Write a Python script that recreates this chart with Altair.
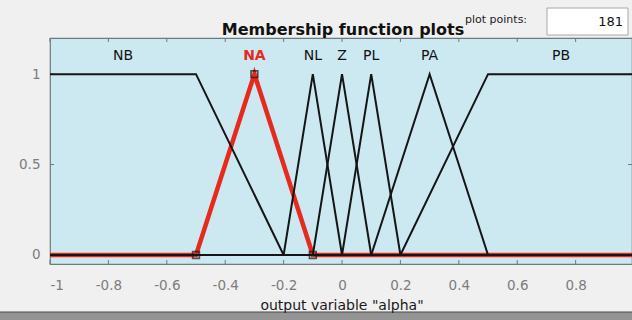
import altair as alt
import pandas as pd

# Membership functions of the output variable "alpha"
mf_names = ["NB", "NA", "NL", "Z", "PL", "PA", "PB"]
mf_params = [
    [-1.0, -1.0, -0.5, -0.2],   # trapmf
    [-0.5, -0.3, -0.1],         # trimf (selected)
    [-0.2, -0.1, 0.0],
    [-0.1, 0.0, 0.1],
    [0.0, 0.1, 0.2],
    [0.1, 0.3, 0.5],
    [0.2, 0.5, 1.0, 1.0],       # trapmf
]
selected = "NA"
label_x = [-0.75, -0.3, -0.1, 0.0, 0.1, 0.3, 0.75]
label_y = 1.1

x_range = [-1.0, 1.0]
x_ticks = [-1.0, -0.8, -0.6, -0.4, -0.2, 0.0, 0.2, 0.4, 0.6, 0.8]
y_ticks = [0.0, 0.5, 1.0]
plot_points = "181"


def trap(x, a, b, c, d):
    if x < a or x > d:
        return 0.0
    if b <= x <= c:
        return 1.0
    if x < b:
        return (x - a) / (b - a)
    return (d - x) / (d - c)


def mf_value(x, p):
    if len(p) == 3:
        return trap(x, p[0], p[1], p[1], p[2])
    return trap(x, *p)


rows = []
for name, p in zip(mf_names, mf_params):
    xs = sorted(set([x_range[0], x_range[1]] + [v for v in p if x_range[0] <= v <= x_range[1]]))
    for i, xv in enumerate(xs):
        rows.append({"mf": name, "x": xv, "y": mf_value(xv, p), "i": i})
curves = pd.DataFrame(rows)
sel_curve = curves[curves.mf == selected]
other_curves = curves[curves.mf != selected]

sel_p = mf_params[mf_names.index(selected)]
vertices = pd.DataFrame({"x": sel_p, "y": [mf_value(v, sel_p) for v in sel_p]})

labels = pd.DataFrame({"mf": mf_names, "x": label_x, "y": [label_y] * len(mf_names)})
sel_label = labels[labels.mf == selected]
other_labels = labels[labels.mf != selected]

W, H = 582, 226
FONT = "DejaVu Sans"

xs = alt.Scale(domain=[-1.0, 0.993], nice=False, zero=False)
ys = alt.Scale(domain=[-0.05, 1.2], nice=False, zero=False)

one = pd.DataFrame({"k": [0]})

# plain hyphen-minus in tick labels
label_expr = "'' + datum.value"

base_axes = alt.Chart(pd.DataFrame({"x": x_ticks, "y": [0.0] * len(x_ticks)})).mark_rule(opacity=0).encode(
    x=alt.X("x:Q", scale=xs, axis=alt.Axis(values=x_ticks, labelExpr=label_expr, title=None,
                                           ticks=False, tickSize=0, domain=False, grid=False,
                                           labelPadding=14, labelFontSize=13.5,
                                           labelColor="#7c7c7c", labelFont=FONT)),
    y=alt.Y("y:Q", scale=ys, axis=alt.Axis(values=y_ticks, labelExpr=label_expr, title=None,
                                           ticks=False, tickSize=0, domain=False, grid=False,
                                           labelPadding=10, labelFontSize=13.5,
                                           labelColor="#7c7c7c", labelFont=FONT)),
)

# inward tick marks on all four sides
tick_color = "#6d7a7e"
bottom_ticks = alt.Chart(pd.DataFrame({"x": x_ticks})).mark_rule(color=tick_color, strokeWidth=1).encode(
    x=alt.X("x:Q", scale=xs), y=alt.value(H), y2=alt.value(H - 4))
top_ticks = alt.Chart(pd.DataFrame({"x": x_ticks})).mark_rule(color=tick_color, strokeWidth=1).encode(
    x=alt.X("x:Q", scale=xs), y=alt.value(0), y2=alt.value(4))
left_ticks = alt.Chart(pd.DataFrame({"y": y_ticks})).mark_rule(color=tick_color, strokeWidth=1).encode(
    y=alt.Y("y:Q", scale=ys), x=alt.value(0), x2=alt.value(4))
right_ticks = alt.Chart(pd.DataFrame({"y": y_ticks})).mark_rule(color=tick_color, strokeWidth=1).encode(
    y=alt.Y("y:Q", scale=ys), x=alt.value(W), x2=alt.value(W - 4))

sel_line = alt.Chart(sel_curve).mark_line(color="#e62a1c", strokeWidth=4.5, clip=True).encode(
    x=alt.X("x:Q", scale=xs), y=alt.Y("y:Q", scale=ys), order="i:Q")

other_lines = alt.Chart(other_curves).mark_line(color="#151515", strokeWidth=2, clip=True).encode(
    x=alt.X("x:Q", scale=xs), y=alt.Y("y:Q", scale=ys), detail="mf:N", order="i:Q")

vertex_marks = alt.Chart(vertices).mark_point(shape="square", filled=False, size=45,
                                               stroke="#1e1414", strokeWidth=1.7).encode(
    x=alt.X("x:Q", scale=xs), y=alt.Y("y:Q", scale=ys))

other_label_marks = alt.Chart(other_labels).mark_text(font=FONT, fontSize=14, baseline="middle",
                                                      color="#111111").encode(
    x=alt.X("x:Q", scale=xs), y=alt.Y("y:Q", scale=ys), text="mf:N")
sel_label_mark = alt.Chart(sel_label).mark_text(font=FONT, fontSize=14, baseline="middle",
                                                fontWeight="bold", color="#e62a1c").encode(
    x=alt.X("x:Q", scale=xs), y=alt.Y("y:Q", scale=ys), text="mf:N")

# header: title, plot-points caption and value box
title = alt.Chart(one).mark_text(font=FONT, fontSize=16, fontWeight="bold", color="#111111",
                                 baseline="alphabetic").encode(
    x=alt.value(293), y=alt.value(-3), text=alt.value("Membership function plots"))
pp_caption = alt.Chart(one).mark_text(font=FONT, fontSize=11, color="#222222", align="left",
                                      baseline="middle").encode(
    x=alt.value(415), y=alt.value(-18), text=alt.value("plot points:"))
pp_box = alt.Chart(one).mark_rect(fill="white", stroke="#a8a8a8", strokeWidth=1).encode(
    x=alt.value(497), x2=alt.value(578), y=alt.value(-30), y2=alt.value(-3))
pp_value = alt.Chart(one).mark_text(font=FONT, fontSize=13, color="#111111", align="right",
                                    baseline="middle").encode(
    x=alt.value(573), y=alt.value(-16), text=alt.value(plot_points))

# footer: axis caption and the panel edge below it
footer_bar = alt.Chart(one).mark_rect(fill="#949494", stroke="#4a4a4a", strokeWidth=1).encode(
    x=alt.value(-52), x2=alt.value(W + 2), y=alt.value(H + 48), y2=alt.value(H + 60))
x_caption = alt.Chart(one).mark_text(font=FONT, fontSize=14, color="#1a1a1a",
                                     baseline="alphabetic").encode(
    x=alt.value(292), y=alt.value(H + 46), text=alt.value('output variable "alpha"'))

chart = alt.layer(
    base_axes, bottom_ticks, top_ticks, left_ticks, right_ticks,
    sel_line, other_lines, vertex_marks, other_label_marks, sel_label_mark,
    title, pp_caption, pp_box, pp_value, footer_bar, x_caption,
).properties(
    width=W, height=H,
    padding={"left": 50, "top": 38, "right": 0, "bottom": 56},
    autosize=alt.AutoSizeParams(type="none"),
    background="#f0f0f0",
).configure_view(
    fill="#cce8f1", stroke="#6d7a7e", strokeWidth=1.2,
)

chart.save("out.html", embed_options={"renderer": "svg", "actions": False})
